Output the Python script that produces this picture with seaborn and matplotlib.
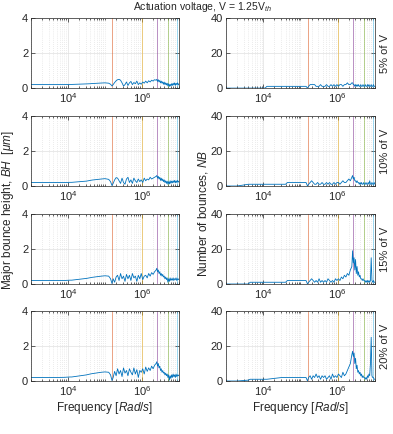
import numpy as np
import pandas as pd
import matplotlib
matplotlib.use("Agg")
import matplotlib.pyplot as plt
import matplotlib.ticker as mticker
import seaborn as sns

# frequency grid, given as log10 of the frequency in rad/s
log_freq = [3.0, 3.3, 3.6, 3.65, 3.9, 4.05, 4.1, 4.5, 4.6, 4.65, 4.9, 5.0, 5.1, 5.15, 5.19,
            5.22, 5.26, 5.30, 5.34, 5.38, 5.42, 5.46, 5.50, 5.54, 5.58,
            5.62, 5.66, 5.70, 5.74, 5.78, 5.82, 5.86, 5.90, 5.94, 5.98,
            6.02, 6.06, 6.10, 6.14, 6.18, 6.22, 6.26, 6.30, 6.34, 6.38,
            6.40, 6.42, 6.44, 6.46, 6.48, 6.50, 6.52, 6.54, 6.56, 6.58,
            6.60, 6.62, 6.64, 6.66, 6.68, 6.70, 6.72, 6.74, 6.76, 6.78,
            6.80, 6.82, 6.84, 6.86, 6.88, 6.90, 6.92, 6.94, 6.96, 6.98, 7.00]

# major bounce height (um), one list per amplitude
bh_5 = [0.2, 0.2, 0.2, 0.2, 0.2, 0.21, 0.21, 0.24, 0.25, 0.26, 0.29, 0.3, 0.28, 0.22, 0.12,
        0.2, 0.32, 0.42, 0.48, 0.5, 0.45, 0.3, 0.12, 0.2, 0.35, 0.15, 0.3, 0.38, 0.2, 0.32,
        0.25, 0.4, 0.2, 0.3, 0.22, 0.35, 0.28, 0.4, 0.3, 0.42, 0.35, 0.45, 0.4, 0.48, 0.45,
        0.5, 0.38, 0.48, 0.35, 0.44, 0.3, 0.4, 0.28, 0.36, 0.22, 0.34, 0.2, 0.3, 0.18, 0.28,
        0.12, 0.25, 0.1, 0.22, 0.12, 0.25, 0.15, 0.28, 0.18, 0.3, 0.15, 0.28, 0.2, 0.3, 0.18, 0.25]
bh_10 = [0.2, 0.2, 0.2, 0.2, 0.2, 0.21, 0.21, 0.28, 0.32, 0.34, 0.4, 0.42, 0.38, 0.25, 0.02,
         0.15, 0.35, 0.48, 0.45, 0.3, 0.15, 0.45, 0.2, 0.1, 0.4, 0.5, 0.2, 0.35, 0.15, 0.45,
         0.3, 0.2, 0.4, 0.25, 0.35, 0.2, 0.45, 0.3, 0.4, 0.35, 0.5, 0.4, 0.45, 0.5, 0.55,
         0.6, 0.45, 0.55, 0.4, 0.5, 0.32, 0.45, 0.3, 0.4, 0.25, 0.35, 0.2, 0.3, 0.15, 0.28,
         0.1, 0.25, 0.12, 0.3, 0.15, 0.28, 0.18, 0.3, 0.2, 0.32, 0.18, 0.3, 0.2, 0.32, 0.22, 0.28]
bh_15 = [0.2, 0.2, 0.2, 0.2, 0.2, 0.22, 0.22, 0.32, 0.36, 0.38, 0.45, 0.47, 0.45, 0.3, 0.02,
         0.3, 0.1, 0.4, 0.5, 0.2, 0.6, 0.3, 0.45, 0.15, 0.55, 0.3, 0.5, 0.2, 0.6, 0.35,
         0.45, 0.15, 0.5, 0.3, 0.6, 0.25, 0.45, 0.5, 0.35, 0.6, 0.45, 0.65, 0.55, 0.7, 0.8,
         0.9, 0.7, 0.8, 0.6, 0.7, 0.5, 0.6, 0.45, 0.55, 0.4, 0.45, 0.3, 0.4, 0.25, 0.35,
         0.1, 0.3, 0.15, 0.35, 0.2, 0.3, 0.22, 0.35, 0.2, 0.3, 0.25, 0.35, 0.2, 0.3, 0.25, 0.3]
bh_20 = [0.2, 0.2, 0.2, 0.2, 0.21, 0.23, 0.23, 0.35, 0.4, 0.42, 0.5, 0.52, 0.5, 0.35, 0.02,
         0.2, 0.55, 0.3, 0.7, 0.4, 0.6, 0.25, 0.75, 0.45, 0.6, 0.3, 0.7, 0.5, 0.35, 0.75,
         0.4, 0.65, 0.2, 0.6, 0.5, 0.7, 0.4, 0.8, 0.55, 0.75, 0.6, 0.85, 0.7, 0.9, 1.0,
         1.1, 0.85, 1.0, 0.75, 0.85, 0.6, 0.7, 0.5, 0.6, 0.45, 0.5, 0.35, 0.45, 0.3, 0.4,
         0.2, 0.35, 0.05, 0.3, 0.15, 0.35, 0.2, 0.4, 0.25, 0.35, 0.2, 0.4, 0.25, 0.35, 0.3, 0.35]

# number of bounces
nb_5 = [0, 0, 0, 0, 0, 0, 1, 1, 1, 1, 1, 1, 1, 1, 0,
        1, 2, 2, 2, 2, 1, 1, 1, 2, 1, 1, 1, 2, 1, 1,
        2, 1, 2, 1, 2, 1, 2, 2, 1, 2, 2, 3, 2, 2, 3,
        3, 2, 2, 1, 2, 1, 2, 1, 2, 1, 1, 2, 1, 1, 2,
        1, 1, 2, 1, 1, 2, 1, 2, 1, 1, 2, 1, 1, 2, 1, 1]
nb_10 = [0, 0, 1, 1, 1, 1, 1, 1, 1, 2, 2, 2, 2, 2, 0,
         1, 2, 3, 2, 1, 1, 2, 1, 1, 2, 1, 1, 2, 1, 2,
         1, 1, 2, 1, 2, 2, 1, 2, 3, 2, 2, 3, 4, 3, 5,
         6, 4, 5, 3, 3, 2, 3, 2, 2, 1, 2, 1, 2, 1, 1,
         2, 1, 1, 2, 1, 1, 2, 1, 3, 1, 1, 2, 1, 1, 2, 1]
nb_15 = [0, 0, 0, 1, 1, 1, 1, 1, 1, 2, 2, 2, 2, 2, 0,
         1, 2, 3, 2, 1, 2, 1, 3, 1, 2, 1, 2, 1, 3, 2,
         1, 2, 1, 3, 2, 3, 2, 4, 3, 5, 4, 6, 5, 8, 10,
         19, 12, 15, 8, 14, 6, 10, 5, 7, 4, 5, 3, 3, 2, 3,
         2, 2, 1, 2, 1, 2, 1, 2, 1, 2, 15, 2, 1, 2, 1, 1]
nb_20 = [0, 0, 0.5, 1, 1, 1, 1, 2, 2, 2, 2, 2, 2, 2, 0,
         2, 3, 1, 3, 2, 4, 2, 3, 1, 3, 2, 3, 1, 2, 3,
         1, 4, 2, 3, 2, 4, 3, 2, 5, 3, 4, 6, 8, 10, 15,
         17, 14, 16, 10, 13, 7, 9, 5, 6, 4, 5, 3, 4, 2, 3,
         2, 2, 1, 2, 1, 3, 2, 4, 3, 10, 25, 3, 2, 2, 1, 1]

row_labels = ['5% of V', '10% of V', '15% of V', '20% of V']
bh_rows = [bh_5, bh_10, bh_15, bh_20]
nb_rows = [nb_5, nb_10, nb_15, nb_20]

# resonance markers (rad/s) and their colours
mode_freqs = [1.55e5, 1.0e6, 2.6e6, 5.1e6, 8.8e6]
mode_colors = ['#D95319', '#EDB120', '#7E2F8E', '#77AC30', '#4DBEEE']

sns.set_style("ticks")
plt.rcParams['font.family'] = ['Liberation Sans', 'DejaVu Sans']
plt.rcParams['mathtext.fontset'] = 'custom'
plt.rcParams['mathtext.rm'] = 'Liberation Sans'
plt.rcParams['mathtext.it'] = 'Liberation Sans:italic'

freq = 10 ** np.array(log_freq)
line_color = '#0072BD'

fig = plt.figure(figsize=(3.93, 4.34), dpi=100)
bottoms = [0.797, 0.5714, 0.3456, 0.1221]
height = 0.1613


def style_axis(ax, ylim, yticks):
    ax.set_xscale('log')
    ax.set_xlim(1e3, 1e7)
    ax.set_ylim(*ylim)
    ax.set_yticks(yticks)
    ax.set_xticks([1e4, 1e6])
    ax.xaxis.set_minor_locator(mticker.LogLocator(base=10, subs=np.arange(1, 10), numticks=20))
    ax.xaxis.set_minor_formatter(mticker.NullFormatter())
    ax.grid(True, which='major', color='#e0e0e0', lw=0.5)
    ax.grid(True, which='minor', axis='x', color='#d8d8d8', lw=0.5, ls=(0, (1, 2)))
    ax.set_axisbelow(True)
    ax.tick_params(which='both', direction='in', top=True, right=True,
                   labelsize=8, colors='#262626', width=0.5, pad=2)
    ax.tick_params(which='major', length=3)
    ax.tick_params(which='minor', length=1.5)
    for sp in ax.spines.values():
        sp.set_visible(True)
        sp.set_linewidth(0.5)
        sp.set_color('#262626')
    ax.set_xlabel('')
    ax.set_ylabel('')


for i in range(4):
    ax_l = fig.add_axes([0.0789, bottoms[i], 0.3766, height])
    ax_r = fig.add_axes([0.575, bottoms[i], 0.379, height])

    for f, c in zip(mode_freqs, mode_colors):
        ax_l.axvline(f, color=c, lw=0.5, alpha=0.75)
        ax_r.axvline(f, color=c, lw=0.5, alpha=0.75)

    df = pd.DataFrame({'freq': freq, 'bh': bh_rows[i], 'nb': nb_rows[i]})
    sns.lineplot(data=df, x='freq', y='bh', ax=ax_l, color=line_color, lw=0.6)
    sns.lineplot(data=df, x='freq', y='nb', ax=ax_r, color=line_color, lw=0.6)

    style_axis(ax_l, (0, 4), [0, 2, 4])
    style_axis(ax_r, (0, 40), [0, 20, 40])

    ax_r.text(1.07, 0.5, row_labels[i], transform=ax_r.transAxes, rotation=90,
              ha='center', va='center', fontsize=8, color='#262626')

    if i == 3:
        ax_l.set_xlabel('Frequency [$\\it{Rad/s}$]', fontsize=8.5, color='#262626', labelpad=2)
        ax_r.set_xlabel('Frequency [$\\it{Rad/s}$]', fontsize=8.5, color='#262626', labelpad=2)

fig.text(0.02, 0.516, 'Major bounce height, $BH$  [$\\mu m$]', rotation=90,
         ha='center', va='center', fontsize=8.5, color='#262626')
fig.text(0.517, 0.509, 'Number of bounces, $NB$', rotation=90,
         ha='center', va='center', fontsize=8.5, color='#262626')
fig.text(0.515, 1.0, 'Actuation voltage, V = 1.25V$_{th}$',
         ha='center', va='top', fontsize=7.5, color='#262626')

fig.savefig('out.png', dpi=100)
